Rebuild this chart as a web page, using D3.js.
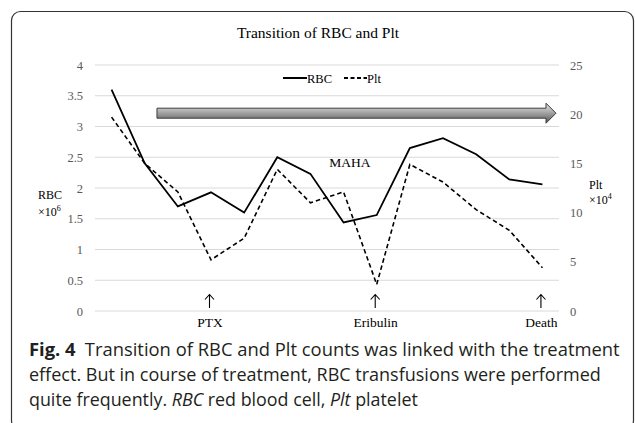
<!DOCTYPE html>
<html><head><meta charset="utf-8">
<script src="https://cdn.jsdelivr.net/npm/d3@7"></script>
<style>html,body{margin:0;padding:0;background:#fff;}svg{display:block;}</style>
</head><body>
<svg id="c" width="635" height="423"></svg>
<script>
const categories = ["1","2","3","4","5","6","7","8","9","10","11","12","13","14"];
const rbcValues = [3.60,2.40,1.70,1.93,1.60,2.50,2.23,1.44,1.56,2.65,2.81,2.55,2.14,2.06];
const pltValues = [19.7,15.0,12.1,5.2,7.4,14.4,11.0,12.1,2.7,14.9,13.1,10.3,8.2,4.4];
const leftTicks = [0,0.5,1,1.5,2,2.5,3,3.5,4];
const rightTicks = [0,5,10,15,20,25];
const eventCats = ["4","9","14"];
const eventLabels = ["PTX","Eribulin","Death"];
const seriesNames = ["RBC","Plt"];
const titleText = "Transition of RBC and Plt";

const svg = d3.select("#c");
const serif = "'Liberation Serif','Times New Roman',serif";
const sans = "'Open Sans','Noto Sans',sans-serif";

// frame
svg.append("rect").attr("x",11.5).attr("y",11.5).attr("width",622).attr("height",418)
  .attr("rx",9).attr("fill","none").attr("stroke","#333").attr("stroke-width",1.2);

const x = d3.scalePoint().domain(categories).range([95,559]).padding(0.5);
const yL = d3.scaleLinear().domain([0,4]).range([311,65]);
const yR = d3.scaleLinear().domain([0,25]).range([311,65]);

// gridlines + left ticks
const gl = d3.axisLeft(yL).tickValues(leftTicks).tickSize(0).tickPadding(12)
  .tickFormat(d=>String(d));
const gAxL = svg.append("g").attr("transform","translate(95,0)").call(gl);
gAxL.select(".domain").remove();
gAxL.selectAll("text").attr("font-family",serif).attr("font-size",12.5).attr("fill","#595959");
svg.append("g").selectAll("line").data(leftTicks).join("line")
  .attr("x1",95).attr("x2",559).attr("y1",d=>yL(d)).attr("y2",d=>yL(d))
  .attr("stroke","#d9d9d9").attr("stroke-width",1);

const gr = d3.axisRight(yR).tickValues(rightTicks).tickSize(0).tickPadding(11);
const gAxR = svg.append("g").attr("transform","translate(559,0)").call(gr);
gAxR.select(".domain").remove();
gAxR.selectAll("text").attr("font-family",serif).attr("font-size",12.5).attr("fill","#595959");

// title
svg.append("text").attr("x",318).attr("y",38).attr("text-anchor","middle")
  .attr("font-family",serif).attr("font-size",15.5).attr("fill","#000").text(titleText);

// axis titles
const at = svg.append("text").attr("font-family",serif).attr("font-size",12).attr("fill","#000");
at.append("tspan").attr("x",38).attr("y",199).text("RBC");
at.append("tspan").attr("x",38).attr("y",216).text("×10");
at.append("tspan").attr("dy",-5).attr("font-size",8).text("6");
const bt = svg.append("text").attr("font-family",serif).attr("font-size",12).attr("fill","#000");
bt.append("tspan").attr("x",589).attr("y",189).text("Plt");
bt.append("tspan").attr("x",589).attr("y",204).text("×10");
bt.append("tspan").attr("dy",-5).attr("font-size",8).text("4");

// MAHA arrow
const defs = svg.append("defs");
const grad = defs.append("linearGradient").attr("id","ag").attr("x1",0).attr("y1",0).attr("x2",0).attr("y2",1);
grad.append("stop").attr("offset","0").attr("stop-color","#e6e6e6");
grad.append("stop").attr("offset","0.45").attr("stop-color","#a8a8a8");
grad.append("stop").attr("offset","1").attr("stop-color","#555");
const step = x.step();
const ax0 = x(categories[1]) + 0.37*step, ax1 = x.range()[1] - 3;
const ay = yR(20) - 1;
const hb = 5, hh = 10, hl = 10;
svg.append("path")
  .attr("d",`M${ax0},${ay-hb}L${ax1-hl},${ay-hb}L${ax1-hl},${ay-hh}L${ax1},${ay}L${ax1-hl},${ay+hh}L${ax1-hl},${ay+hb}L${ax0},${ay+hb}Z`)
  .attr("fill","url(#ag)").attr("stroke","#3c3c3c").attr("stroke-width",1);
svg.append("text").attr("x",350).attr("y",167).attr("text-anchor","middle")
  .attr("font-family",serif).attr("font-size",13.5).attr("fill","#000").text("MAHA");

// legend
const lg = svg.append("g");
lg.append("line").attr("x1",283).attr("x2",307).attr("y1",78).attr("y2",78).attr("stroke","#000").attr("stroke-width",2);
lg.append("text").attr("x",307).attr("y",82.5).attr("font-family",serif).attr("font-size",12.5).text(seriesNames[0]);
lg.append("line").attr("x1",344).attr("x2",367).attr("y1",78).attr("y2",78).attr("stroke","#000").attr("stroke-width",2).attr("stroke-dasharray","4,2.5");
lg.append("text").attr("x",367).attr("y",82.5).attr("font-family",serif).attr("font-size",12.5).text(seriesNames[1]);

// lines
const lineL = d3.line().x((d,i)=>x(categories[i])).y(d=>yL(d));
const lineR = d3.line().x((d,i)=>x(categories[i])).y(d=>yR(d));
svg.append("path").attr("d",lineL(rbcValues)).attr("fill","none").attr("stroke","#000").attr("stroke-width",1.8);
svg.append("path").attr("d",lineR(pltValues)).attr("fill","none").attr("stroke","#000").attr("stroke-width",1.6).attr("stroke-dasharray","4.5,3");

// event annotations (thin up arrows + labels)
const ev = svg.append("g").selectAll("g").data(eventCats).join("g")
  .attr("transform",d=>`translate(${x(d)-1.5},0)`);
ev.append("path").attr("d","M0,294.5L0,308M-4.5,299.5L0,294.5L4.5,299.5")
  .attr("fill","none").attr("stroke","#000").attr("stroke-width",1.1);
ev.append("text").attr("x",0.5).attr("y",327).attr("text-anchor","middle")
  .attr("font-family",serif).attr("font-size",13.5).text((d,i)=>eventLabels[i]);

// caption
function capLine(y, parts, width){
  const t = svg.append("text").attr("x",0).attr("y",0).attr("font-family",sans).attr("font-size",18).attr("fill","#231f20");
  parts.forEach(p=>{
    const s = t.append("tspan").text(p.t);
    if(p.b) s.attr("font-weight","bold");
    if(p.i) s.attr("font-style","italic");
  });
  const w = t.node().getComputedTextLength();
  t.attr("transform",`translate(29,${y}) scale(${width/w},1)`);
  return t;
}
capLine(356,[{t:"Fig. 4",b:true},{t:"\u2002Transition of RBC and Plt counts was linked with the treatment"}],591);
capLine(381,[{t:"effect. But in course of treatment, RBC transfusions were performed"}],572);
capLine(406,[{t:"quite frequently. "},{t:"RBC",i:true},{t:" red blood cell, "},{t:"Plt",i:true},{t:" platelet"}],389);
</script>
</body></html>
